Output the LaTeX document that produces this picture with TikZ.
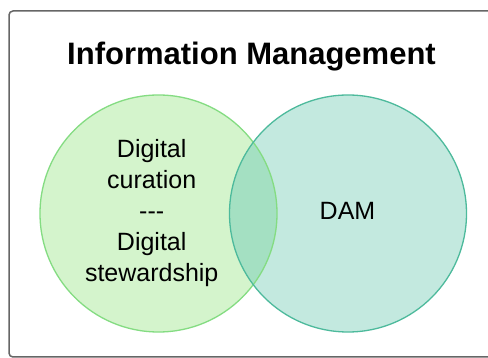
\documentclass[tikz,border=0pt]{standalone}
\usepackage{fontspec}
\setmainfont{Liberation Sans}
\definecolor{lfill}{HTML}{D4F4CC}
\definecolor{rfill}{HTML}{C3E9DF}
\definecolor{ofill}{HTML}{A4E0C2}
\definecolor{lline}{HTML}{84DC82}
\definecolor{rline}{HTML}{4DBA9C}
\definecolor{frame}{HTML}{666666}
\tikzset{
  setc/.style={circle, minimum size=237pt, inner sep=0pt, line width=1.3pt},
  body/.style={font=\fontsize{25}{31}\selectfont, align=center, inner sep=0pt, anchor=base},
}
\begin{document}
\begin{tikzpicture}[x=1pt,y=-1pt]
\useasboundingbox (0,0) rectangle (488,358);
\clip (0,0) rectangle (488,358);
\fill[white] (0,0) rectangle (488,358);
\draw[frame, line width=1.5pt, rounded corners=4pt] (9,11) rectangle (500,357);
\node[font=\bfseries\fontsize{31}{36}\selectfont, inner sep=0pt, anchor=base] (title) at (251.5,65) {Information Management};
\node[setc, fill=lfill] (L) at (158.5,213.5) {};
\node[setc, fill=rfill] (R) at (348,213.5) {};
\begin{scope}
  \clip (L.center) circle (118.5pt);
  \fill[ofill] (R.center) circle (118.5pt);
\end{scope}
\node[setc, draw=lline] at (L.center) {};
\node[setc, draw=rline] at (R.center) {};
\node[body] (lt) at (151.7,282) {Digital\\curation\\{-}{-}{-}\\Digital\\stewardship};
\node[body] (rt) at (347.5,220) {DAM};
\end{tikzpicture}
\end{document}
